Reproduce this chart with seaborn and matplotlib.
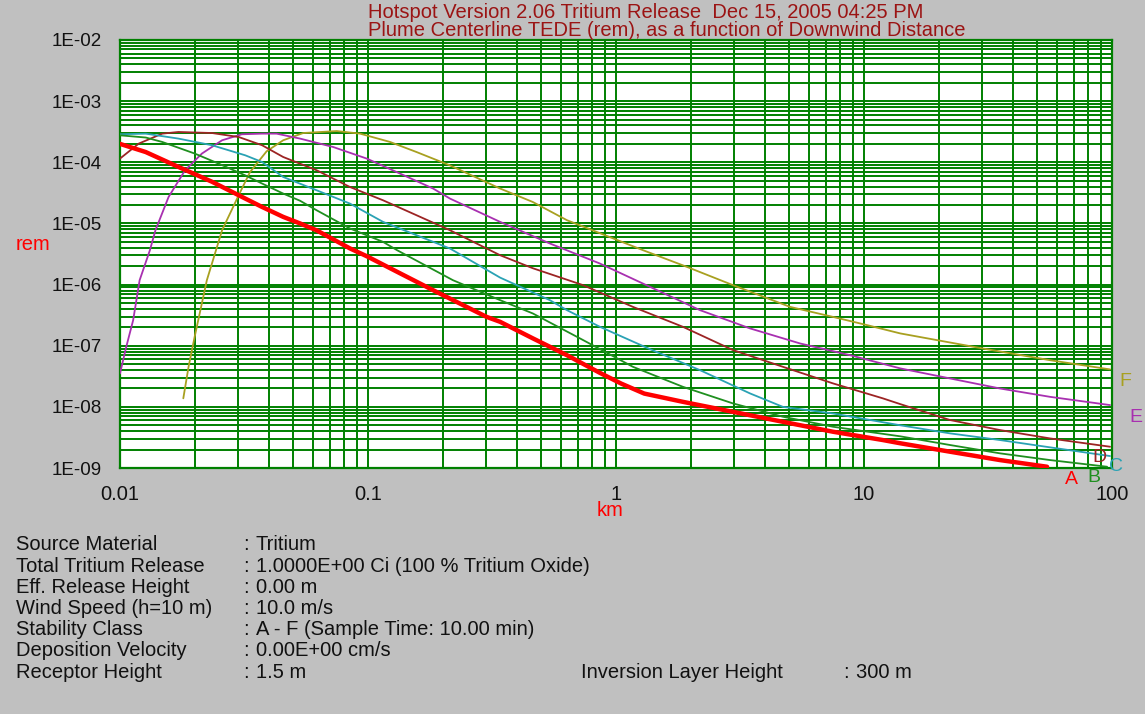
import matplotlib
matplotlib.use("Agg")
import matplotlib.pyplot as plt
from matplotlib.ticker import FixedLocator, FixedFormatter, NullFormatter
import pandas as pd
import seaborn as sns

# downwind distance (km) and plume centerline TEDE (rem), one pair per stability class
dist_a = [0.01, 0.0127, 0.0172, 0.0235, 0.032, 0.0374, 0.0455, 0.0532, 0.0621, 0.0846, 0.099,
          0.135, 0.183, 0.301, 0.341, 0.462, 0.634, 0.861, 1.05, 1.3, 1.86, 2.96, 4.71, 7.5, 11.9,
          14.0, 22.2, 35.3, 54.7]
dose_a = [2.0e-4, 1.47e-4, 8.4e-5, 4.8e-5, 2.55e-5, 1.86e-5, 1.28e-5, 1.0e-5, 7.7e-6, 3.9e-6, 2.9e-6,
          1.52e-6, 8.1e-7, 2.96e-7, 2.46e-7, 1.32e-7, 7.0e-8, 3.6e-8, 2.4e-8, 1.65e-8, 1.21e-8, 8.3e-9,
          5.7e-9, 3.92e-9, 2.87e-9, 2.54e-9, 1.85e-9, 1.35e-9, 1.05e-9]

dist_b = [0.01, 0.0127, 0.0148, 0.02, 0.025, 0.032, 0.0374, 0.0455, 0.0532, 0.0621, 0.0846, 0.115,
          0.131, 0.22, 0.341, 0.462, 0.736, 1.17, 1.86, 2.96, 4.71, 7.5, 14.0, 22.2, 35.3, 56.2, 95.5]
dose_b = [2.76e-4, 2.54e-4, 2.15e-4, 1.39e-4, 9.5e-5, 6.1e-5, 4.49e-5, 3.08e-5, 2.35e-5, 1.64e-5,
          8.26e-6, 4.99e-6, 3.65e-6, 1.18e-6, 5.56e-7, 3.37e-7, 1.24e-7, 4.52e-8, 2.13e-8, 1.14e-8,
          6.9e-9, 4.73e-9, 3.3e-9, 2.38e-9, 1.74e-9, 1.35e-9, 1.05e-9]

dist_c = [0.01, 0.0127, 0.0172, 0.0235, 0.032, 0.0374, 0.0455, 0.0621, 0.0846, 0.115, 0.157, 0.214,
          0.341, 0.541, 0.634, 0.861, 1.37, 2.18, 3.47, 4.71, 7.5, 14.0, 22.2, 35.3, 56.2, 98.2]
dose_c = [2.87e-4, 2.94e-4, 2.44e-4, 1.9e-4, 1.3e-4, 1.01e-4, 5.75e-5, 3.48e-5, 2.11e-5, 1.06e-5,
          6.41e-6, 3.89e-6, 1.3e-6, 5.56e-7, 3.82e-7, 2.04e-7, 8.8e-8, 3.99e-8, 1.66e-8, 1.0e-8,
          7.8e-9, 5.0e-9, 3.69e-9, 2.87e-9, 2.18e-9, 1.57e-9]

dist_d = [0.01, 0.0119, 0.0148, 0.0172, 0.0235, 0.0301, 0.0374, 0.0455, 0.0621, 0.0846, 0.115, 0.157,
          0.214, 0.341, 0.462, 0.736, 1.17, 1.86, 2.96, 4.71, 7.5, 11.9, 14.0, 22.2, 35.3, 56.2, 98.2]
dose_d = [1.15e-4, 2.02e-4, 2.94e-4, 3.13e-4, 3.01e-4, 2.59e-4, 1.9e-4, 1.22e-4, 7.4e-5, 3.94e-5,
          2.39e-5, 1.36e-5, 7.74e-6, 3.02e-6, 1.85e-6, 9.8e-7, 4.32e-7, 2.04e-7, 8.5e-8, 4.52e-8,
          2.42e-8, 1.38e-8, 1.11e-8, 6.1e-9, 4.18e-9, 3.05e-9, 2.23e-9]

dist_e = [0.01, 0.0106, 0.0113, 0.012, 0.0132, 0.0139, 0.0157, 0.0183, 0.0214, 0.0258, 0.031, 0.0374,
          0.0428, 0.0532, 0.0723, 0.0988, 0.135, 0.183, 0.214, 0.341, 0.541, 0.861, 1.37, 2.18, 3.47,
          5.52, 8.79, 14.0, 22.2, 35.3, 56.2, 98.2]
dose_e = [3.52e-8, 9.6e-8, 2.62e-7, 1.18e-6, 3.65e-6, 7.74e-6, 2.71e-5, 7.4e-5, 1.39e-4, 2.29e-4,
          2.87e-4, 2.94e-4, 2.94e-4, 2.44e-4, 1.78e-4, 1.15e-4, 6.5e-5, 3.72e-5, 2.55e-5, 1.06e-5,
          4.7e-6, 2.21e-6, 9.2e-7, 3.82e-7, 1.92e-7, 1.09e-7, 7.0e-8, 4.26e-8, 2.92e-8, 2.0e-8,
          1.46e-8, 1.07e-8]

dist_f = [0.018, 0.0189, 0.02, 0.0224, 0.0258, 0.0301, 0.0334, 0.039, 0.0455, 0.0548, 0.0748, 0.0929,
          0.1227, 0.157, 0.214, 0.341, 0.462, 0.634, 0.861, 1.285, 1.93, 2.96, 5.03, 7.5, 10.3, 14.0,
          30.2, 56.2, 98.2]
dose_f = [1.38e-8, 4.52e-8, 1.4e-7, 1.18e-6, 7.74e-6, 2.89e-5, 6.87e-5, 1.51e-4, 2.29e-4, 3.01e-4,
          3.24e-4, 2.94e-4, 2.15e-4, 1.47e-4, 8.9e-5, 3.72e-5, 2.24e-5, 1.13e-5, 6.92e-6, 3.65e-6,
          1.95e-6, 9.8e-7, 4.32e-7, 2.96e-7, 2.17e-7, 1.59e-7, 9.0e-8, 5.8e-8, 4.1e-8]

classes = ["A", "B", "C", "D", "E", "F"]
colors = {"A": "#ff0000", "B": "#1f8f1f", "C": "#2aa2b4", "D": "#9c2424",
          "E": "#a830b0", "F": "#a8a020"}

x_ticks = [0.01, 0.1, 1, 10, 100]
x_labels = ["0.01", "0.1", "1", "10", "100"]
y_ticks = [1e-9, 1e-8, 1e-7, 1e-6, 1e-5, 1e-4, 1e-3, 1e-2]
y_labels = ["1E-09", "1E-08", "1E-07", "1E-06", "1E-05", "1E-04", "1E-03", "1E-02"]

info_labels = ["Source Material", "Total Tritium Release", "Eff. Release Height",
               "Wind Speed (h=10 m)", "Stability Class", "Deposition Velocity", "Receptor Height"]
info_values = ["Tritium", "1.0000E+00 Ci (100 % Tritium Oxide)", "0.00 m", "10.0 m/s",
               "A - F (Sample Time: 10.00 min)", "0.00E+00 cm/s", "1.5 m"]

frames = []
for cls, d, v in zip(classes, [dist_a, dist_b, dist_c, dist_d, dist_e, dist_f],
                     [dose_a, dose_b, dose_c, dose_d, dose_e, dose_f]):
    frames.append(pd.DataFrame({"km": d, "rem": v, "cls": cls}))
df = pd.concat(frames, ignore_index=True)

sns.set_style("white")
plt.rcParams["font.family"] = ["Liberation Sans", "DejaVu Sans"]

grey = "#c0c0c0"
green = "#008000"
fs = 14.5
fig = plt.figure(figsize=(11.45, 7.14), dpi=100, facecolor=grey)
ax = fig.add_axes([0.1048, 0.3445, 0.8664, 0.5995])
ax.set_facecolor("white")

# thinner lines first, A (thick red) on top
for cls in ["F", "E", "D", "C", "B", "A"]:
    sub = df[df["cls"] == cls]
    sns.lineplot(data=sub, x="km", y="rem", color=colors[cls], ax=ax,
                 linewidth=3.2 if cls == "A" else 1.3, legend=False, zorder=3)

ax.set_xscale("log")
ax.set_yscale("log")
ax.set_xlim(0.01, 100)
ax.set_ylim(1e-9, 1e-2)

x_minor = [m * 10.0 ** k for k in range(-2, 2) for m in range(2, 10)]
y_minor = [m * 10.0 ** k for k in range(-9, -2) for m in range(2, 10)]
ax.xaxis.set_major_locator(FixedLocator(x_ticks))
ax.xaxis.set_major_formatter(FixedFormatter(x_labels))
ax.yaxis.set_major_locator(FixedLocator(y_ticks))
ax.yaxis.set_major_formatter(FixedFormatter(y_labels))
ax.xaxis.set_minor_locator(FixedLocator(x_minor))
ax.yaxis.set_minor_locator(FixedLocator(y_minor))
ax.xaxis.set_minor_formatter(NullFormatter())
ax.yaxis.set_minor_formatter(NullFormatter())

ax.grid(which="both", color=green, linewidth=1.4)
ax.set_axisbelow(True)
for s in ax.spines.values():
    s.set_color(green)
    s.set_linewidth(1.6)

ax.tick_params(axis="both", which="both", length=0, colors="#111111")
ax.tick_params(axis="x", labelsize=fs, pad=12)
ax.tick_params(axis="y", labelsize=13.5, pad=13)
ax.set_xlabel("")
ax.set_ylabel("")

# axis titles
fig.text(610 / 1145, 1 - 511 / 714, "km", color="red", fontsize=fs, ha="center", va="center")
fig.text(16 / 1145, 1 - 245 / 714, "rem", color="red", fontsize=fs, ha="left", va="center")

# class labels next to the curve ends
label_pos = {"F": (1.013, 0.201), "E": (1.024, 0.119), "D": (0.987, 0.025),
             "C": (1.004, 0.003), "B": (0.982, -0.021), "A": (0.959, -0.026)}
for cls, (fx, fy) in label_pos.items():
    ax.text(fx, fy, cls, transform=ax.transAxes, color=colors[cls], fontsize=14,
            ha="center", va="center", clip_on=False)

title_color = "#9b1414"
fig.text(368 / 1145, 1 - 13 / 714, "Hotspot Version 2.06 Tritium Release  Dec 15, 2005 04:25 PM",
         color=title_color, fontsize=fs, ha="left", va="center")
fig.text(368 / 1145, 1 - 30 / 714, "Plume Centerline TEDE (rem), as a function of Downwind Distance",
         color=title_color, fontsize=fs, ha="left", va="center")

# run parameters under the chart
for i, (lab, val) in enumerate(zip(info_labels, info_values)):
    yy = 1 - (545 + i * 21.2) / 714
    fig.text(16 / 1145, yy, lab, fontsize=fs, color="#111111", ha="left", va="center")
    fig.text(243 / 1145, yy, ":", fontsize=fs, color="#111111", ha="left", va="center")
    fig.text(256 / 1145, yy, val, fontsize=fs, color="#111111", ha="left", va="center")

yy = 1 - (545 + 6 * 21.2) / 714
fig.text(581 / 1145, yy, "Inversion Layer Height", fontsize=fs, color="#111111", ha="left", va="center")
fig.text(843 / 1145, yy, ":", fontsize=fs, color="#111111", ha="left", va="center")
fig.text(856 / 1145, yy, "300 m", fontsize=fs, color="#111111", ha="left", va="center")

fig.savefig("out.png", dpi=100, facecolor=grey)
